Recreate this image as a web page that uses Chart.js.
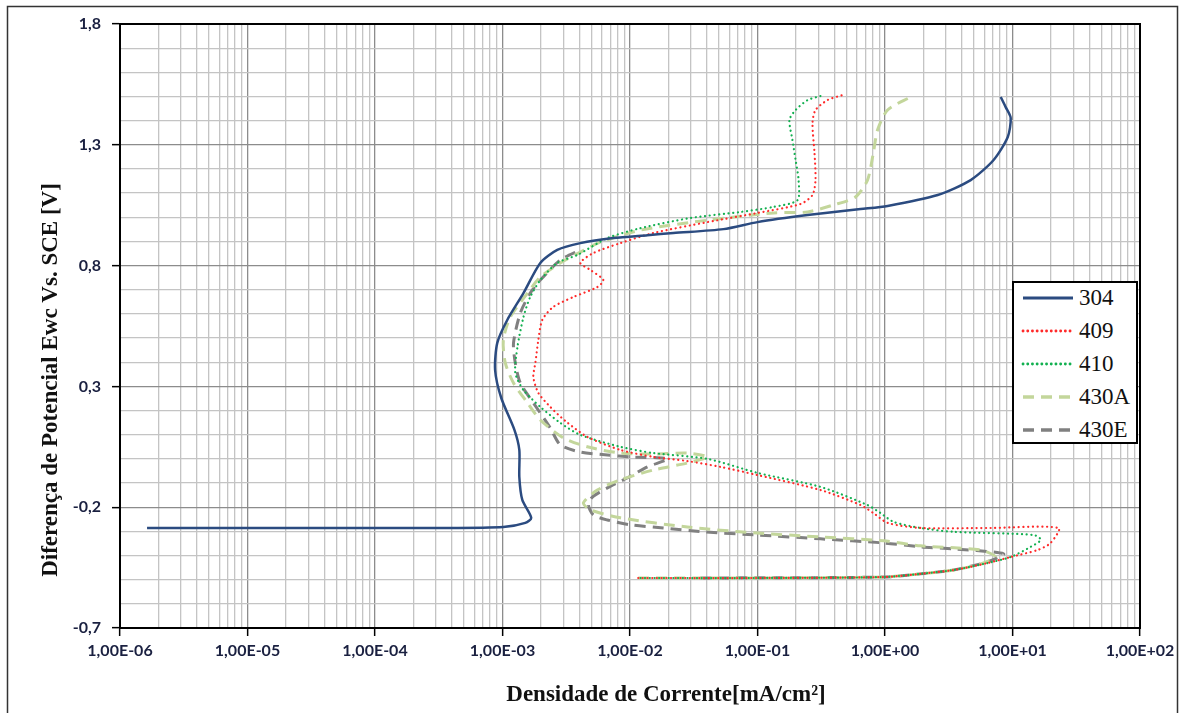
<!DOCTYPE html>
<html>
<head>
<meta charset="utf-8">
<script src="https://cdn.jsdelivr.net/npm/chart.js@4.4.1/dist/chart.umd.min.js"></script>
<style>
  html, body { margin: 0; padding: 0; background: #fff; }
  #wrap { position: relative; width: 1185px; height: 713px; }
  #legendBox {
    position: absolute; left: 1012px; top: 281px; width: 122px; height: 159px;
    border: 2px solid #000; background: #fff;
    font-family: "Liberation Serif", "DejaVu Serif", serif; font-size: 23px; color: #111;
  }
  .row { position: absolute; left: 0; height: 26px; display: flex; align-items: center; }
  .row svg { margin-left: 7px; margin-right: 4px; }
</style>
</head>
<body>
<div id="wrap">
  <canvas id="chart" width="1185" height="713"></canvas>
  <div id="legendBox"></div>
</div>
<script>
// current density (mA/cm2) and potential (V)
const i304 = [1.63e-6, 2.59e-5, 3.25e-4, 1.015e-3, 1.51e-3, 1.68e-3, 1.43e-3, 1.355e-3, 1.355e-3, 1.24e-3, 9.78e-4, 8.75e-4, 9.1e-4, 1.09e-3, 1.46e-3, 1.98e-3, 2.69e-3, 4.08e-3, 7.4e-3, 1.37e-2, 2.19e-2, 5.41e-2, 0.1, 0.247, 0.643, 1.048, 2.59, 4.70, 7.11, 9.18, 9.68, 8.84, 8.08];
const v304 = [-0.286, -0.286, -0.286, -0.282, -0.265, -0.244, -0.170, -0.075, 0.037, 0.120, 0.252, 0.368, 0.480, 0.575, 0.686, 0.811, 0.865, 0.893, 0.914, 0.926, 0.935, 0.951, 0.980, 1.009, 1.034, 1.047, 1.092, 1.154, 1.237, 1.332, 1.411, 1.456, 1.498];

const i409 = [0.0116, 0.1056, 0.975, 1.90, 3.45, 6.38, 9.68, 15.8, 19.9, 23.0, 6.75, 1.90, 1.05, 0.81, 0.643, 0.312, 0.1, 0.0512, 0.0282, 0.0153, 0.0084, 4.63e-3, 3.11e-3, 2.37e-3, 1.91e-3, 1.745e-3, 1.81e-3, 1.91e-3, 2.05e-3, 2.50e-3, 3.60e-3, 5.54e-3, 6.18e-3, 4.89e-3, 4.08e-3, 5.16e-3, 8.4e-3, 0.0153, 0.0405, 0.1, 0.2175, 0.27, 0.285, 0.28, 0.27, 0.285, 0.354, 0.4645];
const v409 = [-0.493, -0.493, -0.489, -0.476, -0.460, -0.431, -0.406, -0.377, -0.348, -0.286, -0.286, -0.286, -0.265, -0.224, -0.191, -0.129, -0.067, -0.033, -0.009, 0.008, 0.037, 0.091, 0.157, 0.215, 0.273, 0.339, 0.397, 0.492, 0.575, 0.629, 0.670, 0.711, 0.740, 0.782, 0.811, 0.852, 0.893, 0.935, 0.980, 1.018, 1.055, 1.092, 1.154, 1.266, 1.390, 1.444, 1.485, 1.506];

const i410 = [0.0121, 0.1056, 0.975, 1.90, 3.45, 6.38, 9.68, 13.9, 16.7, 14.7, 3.45, 1.90, 1.17, 0.922, 0.729, 0.312, 0.1, 0.0405, 0.0153, 0.0084, 4.08e-3, 2.84e-3, 1.98e-3, 1.46e-3, 1.26e-3, 1.31e-3, 1.46e-3, 1.65e-3, 1.98e-3, 2.69e-3, 3.87e-3, 6.65e-3, 0.0121, 0.0298, 0.0735, 0.1336, 0.206, 0.21, 0.199, 0.188, 0.178, 0.199, 0.247, 0.312];
const v410 = [-0.493, -0.493, -0.489, -0.476, -0.460, -0.431, -0.406, -0.364, -0.335, -0.315, -0.302, -0.286, -0.261, -0.224, -0.191, -0.116, -0.058, 0.000, 0.024, 0.050, 0.099, 0.149, 0.215, 0.285, 0.356, 0.463, 0.587, 0.670, 0.740, 0.811, 0.844, 0.914, 0.955, 0.997, 1.022, 1.043, 1.071, 1.154, 1.237, 1.320, 1.403, 1.444, 1.485, 1.502];

const i430A = [0.0116, 0.1056, 0.975, 1.90, 3.45, 5.63, 7.36, 5.63, 1.90, 0.975, 0.312, 0.093, 0.0282, 0.0084, 4.89e-3, 4.31e-3, 5.54e-3, 8.4e-3, 0.0153, 0.0282, 0.0405, 0.0282, 0.0153, 0.0084, 4.63e-3, 3.0e-3, 1.98e-3, 1.57e-3, 1.22e-3, 1.052e-3, 1.015e-3, 1.15e-3, 1.57e-3, 1.98e-3, 2.84e-3, 4.08e-3, 5.85e-3, 0.0121, 0.0405, 0.1336, 0.247, 0.395, 0.587, 0.729, 0.81, 0.874, 1.048, 1.588];
const v430A = [-0.493, -0.493, -0.489, -0.476, -0.460, -0.435, -0.406, -0.377, -0.360, -0.339, -0.323, -0.306, -0.282, -0.244, -0.211, -0.182, -0.129, -0.087, -0.046, -0.017, 0.008, 0.024, 0.020, 0.024, 0.050, 0.087, 0.161, 0.232, 0.314, 0.397, 0.492, 0.587, 0.686, 0.753, 0.811, 0.856, 0.897, 0.947, 0.988, 1.018, 1.022, 1.051, 1.084, 1.154, 1.266, 1.361, 1.444, 1.498];

const i430E = [0.0357, 0.975, 1.90, 3.45, 6.38, 8.52, 3.45, 1.90, 0.975, 0.312, 0.1, 0.0377, 0.0183, 0.0101, 6.65e-3, 5.16e-3, 4.72e-3, 5.07e-3, 6.65e-3, 9.5e-3, 0.0137, 0.0197, 0.0101, 6.65e-3, 4.08e-3, 2.84e-3, 2.37e-3, 1.745e-3, 1.38e-3, 1.26e-3, 1.22e-3, 1.38e-3, 1.65e-3, 1.98e-3, 2.84e-3, 4.08e-3];
const v430E = [-0.493, -0.489, -0.476, -0.460, -0.426, -0.393, -0.373, -0.364, -0.348, -0.331, -0.315, -0.302, -0.286, -0.273, -0.253, -0.232, -0.191, -0.158, -0.120, -0.079, -0.033, 0.000, 0.008, 0.016, 0.028, 0.058, 0.128, 0.232, 0.314, 0.397, 0.480, 0.604, 0.686, 0.740, 0.823, 0.865];

const seriesNames = ["304", "409", "410", "430A", "430E"];
const decadeExps = [-6, -5, -4, -3, -2, -1, 0, 1, 2];
const potLabels = [-0.7, -0.2, 0.3, 0.8, 1.3, 1.8];
const potMin = -0.7;
const potMax = 1.8;

const xTitle = "Densidade de Corrente[mA/cm²]";
const yTitle = "Diferença de Potencial Ewc Vs. SCE [V]";

const styles = [
  { color: "#2B4B80", width: 2.5, dash: [], cap: "butt" },
  { color: "#FF2A2A", width: 2.2, dash: [0.1, 4.6], cap: "round" },
  { color: "#12B050", width: 2.2, dash: [0.1, 4.6], cap: "round" },
  { color: "#C3D69B", width: 3, dash: [11, 7], cap: "butt" },
  { color: "#808080", width: 3, dash: [11, 7], cap: "butt" }
];

function toPoints(xs, ys) {
  return xs.map((x, i) => ({ x: x, y: ys[i] }));
}

function sciLabel(v) {
  const e = Math.round(Math.log10(v));
  return "1,00E" + (e < 0 ? "-" : "+") + String(Math.abs(e)).padStart(2, "0");
}

const seriesData = [
  toPoints(i304, v304),
  toPoints(i409, v409),
  toPoints(i410, v410),
  toPoints(i430A, v430A),
  toPoints(i430E, v430E)
];

const datasets = seriesNames.map((name, k) => ({
  label: name,
  data: seriesData[k],
  showLine: true,
  borderColor: styles[k].color,
  borderWidth: styles[k].width,
  borderDash: styles[k].dash,
  borderCapStyle: styles[k].cap,
  pointRadius: 0,
  tension: 0.25,
  fill: false
}));

const frames = {
  id: "frames",
  beforeDraw(chart) {
    const ctx = chart.ctx;
    ctx.save();
    ctx.fillStyle = "#fff";
    ctx.fillRect(0, 0, chart.width, chart.height);
    ctx.strokeStyle = "#333";
    ctx.lineWidth = 1.5;
    ctx.strokeRect(7.5, 6.5, 1170, 720);
    ctx.restore();
  },
  afterDatasetsDraw(chart) {
    const { ctx, chartArea: a } = chart;
    ctx.save();
    ctx.strokeStyle = "#000";
    ctx.lineWidth = 2;
    ctx.strokeRect(a.left, a.top, a.right - a.left, a.bottom - a.top);
    ctx.restore();
  },
  afterDraw(chart) {
    const { ctx, chartArea: a } = chart;
    ctx.save();
    ctx.fillStyle = "#111";
    ctx.textAlign = "center";
    ctx.textBaseline = "alphabetic";
    ctx.font = 'bold 23px "Liberation Serif"';
    ctx.fillText(xTitle, (a.left + a.right) / 2 + 36, 701);
    ctx.font = 'bold 23px "Liberation Serif"';
    ctx.translate(57, (a.top + a.bottom) / 2 + 54);
    ctx.rotate(-Math.PI / 2);
    ctx.fillText(yTitle, 0, 0);
    ctx.restore();
  }
};

new Chart(document.getElementById("chart"), {
  type: "scatter",
  data: { datasets },
  plugins: [frames],
  options: {
    responsive: false,
    animation: false,
    layout: { padding: { left: 8, right: 45, top: 24, bottom: 0 } },
    plugins: { legend: { display: false }, tooltip: { enabled: false } },
    scales: {
      x: {
        type: "logarithmic",
        min: 1e-6,
        max: 1e2,
        afterBuildTicks(scale) {
          const ticks = [];
          decadeExps.forEach((e, n) => {
            const last = n === decadeExps.length - 1;
            for (let m = 1; m <= (last ? 1 : 9); m++) {
              ticks.push({ value: m * Math.pow(10, e), dec: m === 1 });
            }
          });
          scale.ticks = ticks;
        },
        afterFit(scale) { scale.height = 85; },
        border: { display: true, color: "#000", width: 2 },
        grid: {
          color: c => (c.tick && c.tick.dec ? "#8c8c8c" : "#c4c4c4"),
          lineWidth: 1.3,
          tickLength: 8,
          tickWidth: 1.5,
          tickColor: c => (c.tick && c.tick.dec ? "#000" : "rgba(0,0,0,0)")
        },
        ticks: {
          autoSkip: false,
          maxRotation: 0,
          padding: 5,
          color: "#1a2040",
          font: { family: "Lato", size: 16, weight: "bold" },
          callback: (value, index, ticks) => (ticks[index].dec ? sciLabel(value) : "")
        }
      },
      y: {
        type: "linear",
        min: potMin,
        max: potMax,
        afterBuildTicks(scale) {
          const ticks = [];
          const steps = Math.round((potMax - potMin) * 10);
          for (let k = 0; k <= steps; k++) {
            const v = Math.round((potMin + k * 0.1) * 10) / 10;
            ticks.push({ value: v, lab: potLabels.includes(v) });
          }
          scale.ticks = ticks;
        },
        afterFit(scale) { scale.width = 112; },
        border: { display: true, color: "#000", width: 2 },
        grid: {
          color: c => (c.tick && c.tick.lab ? "#8c8c8c" : "#c4c4c4"),
          lineWidth: 1.3,
          tickLength: 8,
          tickWidth: 1.5,
          tickColor: c => (c.tick && c.tick.lab ? "#000" : "rgba(0,0,0,0)")
        },
        ticks: {
          autoSkip: false,
          padding: 11,
          color: "#1a2040",
          font: { family: "Lato", size: 16, weight: "bold" },
          callback: (value, index, ticks) => (ticks[index].lab ? value.toFixed(1).replace(".", ",") : "")
        }
      }
    }
  }
});

// legend box
const legendBox = document.getElementById("legendBox");
seriesNames.forEach((name, k) => {
  const s = styles[k];
  const row = document.createElement("div");
  row.className = "row";
  row.style.top = (2 + k * 33) + "px";
  row.innerHTML =
    '<svg width="54" height="10"><line x1="2" y1="5" x2="52" y2="5" stroke="' + s.color +
    '" stroke-width="' + (s.width + 0.6) + '" stroke-linecap="' + s.cap + '"' +
    (s.dash.length ? ' stroke-dasharray="' + s.dash.join(",") + '"' : "") + '/></svg><span>' + name + "</span>";
  legendBox.appendChild(row);
});
</script>
</body>
</html>
